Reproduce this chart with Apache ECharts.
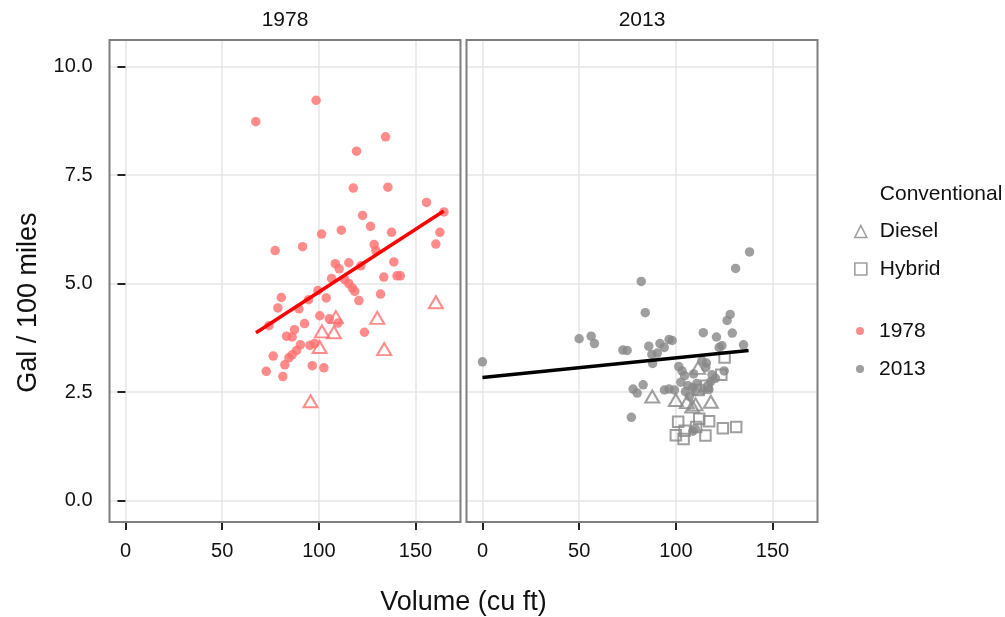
<!DOCTYPE html>
<html><head><meta charset="utf-8">
<script src="https://cdn.jsdelivr.net/npm/echarts@6/dist/echarts.min.js"></script>
<style>html,body{margin:0;padding:0;background:#fff}#chart{width:1005px;height:617px}</style>
</head><body><div id="chart"></div>
<script>
// ---------------- data ----------------
const panels = ['1978', '2013'];
const xTickMax = 150;          // x ticks 0, 50, 100, 150
const xTickStep = 50;
const yTickMax = 10;           // y ticks 0.0 … 10.0
const yTickStep = 2.5;

// 1978 conventional cars
const conv1978Vol = [67.4, 98.6, 134.5, 119.5, 117.8, 135.7, 155.7, 164.7, 122.6, 126.7, 137.6, 162.6, 101.4, 111.6, 160.5, 91.6, 77.4, 128.6, 129.5, 108.5, 110.5, 115.5, 121.7, 138.8, 133.6, 140.4, 142.1, 106.6, 113.4, 115.5, 99.5, 103.8, 117.3, 118.6, 120.7, 131.9, 80.6, 78.8, 89.7, 94.7, 74.2, 100.5, 105.4, 109.9, 92.6, 87.4, 83.3, 86.2, 123.6, 90.5, 95.4, 97.9, 88.5, 86.2, 84.5, 82.4, 76.4, 72.8, 81.4, 96.6, 102.6];
const conv1978Gal = [8.73, 9.22, 8.38, 8.05, 7.20, 7.22, 6.87, 6.65, 6.57, 6.32, 6.18, 6.18, 6.14, 6.23, 5.91, 5.85, 5.76, 5.90, 5.76, 5.46, 5.34, 5.48, 5.41, 5.50, 5.15, 5.18, 5.18, 5.12, 5.09, 5.00, 4.84, 4.67, 4.90, 4.82, 4.61, 4.76, 4.68, 4.44, 4.42, 4.63, 4.03, 4.26, 4.19, 4.09, 4.08, 3.94, 3.79, 3.77, 3.88, 3.59, 3.58, 3.62, 3.46, 3.36, 3.29, 3.13, 3.33, 2.98, 2.86, 3.11, 3.06];
// 1978 diesel cars
const diesel1978Vol = [108.8, 101.6, 107.8, 130.2, 100.4, 133.8, 160.5, 95.7];
const diesel1978Gal = [4.23, 3.90, 3.88, 4.21, 3.54, 3.49, 4.57, 2.29];
// 1978 fitted line (end points)
const fit1978Vol = [67.5, 164.6];
const fit1978Gal = [3.87, 6.67];

// 2013 conventional cars
const conv2013Vol = [138.1, 130.9, 82.1, 84.2, 128.1, 126.5, 114.2, 121.0, 129.2, 123.8, 122.4, 135.0, 0, 50, 56.2, 57.9, 72.6, 74.8, 86.0, 91.8, 94.0, 96.5, 98.1, 87.6, 90.4, 88.0, 101.5, 103.2, 104.5, 113.5, 115.8, 115.5, 109.2, 118.7, 120.5, 125.0, 102.6, 106.2, 108.8, 110.9, 116.6, 118.0, 117.1, 77.9, 80.0, 83.1, 94.1, 96.5, 99.3, 105.0, 107.0, 110.1, 114.0, 77.0, 108.8, 110.0];
const conv2013Gal = [5.73, 5.35, 5.05, 4.33, 4.29, 4.15, 3.87, 3.77, 3.86, 3.57, 3.53, 3.59, 3.20, 3.73, 3.79, 3.62, 3.47, 3.46, 3.56, 3.62, 3.53, 3.71, 3.69, 3.37, 3.40, 3.16, 3.09, 2.99, 2.88, 3.22, 3.17, 3.07, 2.92, 2.90, 2.82, 2.99, 2.73, 2.65, 2.61, 2.70, 2.65, 2.74, 2.56, 2.57, 2.48, 2.67, 2.55, 2.57, 2.55, 2.51, 2.40, 2.52, 2.54, 1.92, 1.60, 1.66];
// 2013 diesel cars
const diesel2013Vol = [87.8, 100.0, 105.7, 108.5, 110.2, 118.1, 111.5];
const diesel2013Gal = [2.40, 2.32, 2.27, 2.17, 2.22, 2.28, 3.06];
// 2013 hybrid cars
const hybrid2013Vol = [125.2, 123.5, 115.7, 111.8, 101.2, 112.1, 117.2, 124.3, 131.2, 100.0, 104.5, 104.0, 115.3, 110.5];
const hybrid2013Gal = [3.30, 2.90, 2.65, 2.55, 1.82, 1.89, 1.83, 1.67, 1.70, 1.51, 1.61, 1.42, 1.50, 1.70];
// 2013 fitted line (end points)
const fit2013Vol = [0, 137.6];
const fit2013Gal = [2.84, 3.46];

// ---------------- layout / style ----------------
const FONT = '"Liberation Sans", Arial, sans-serif';
const RED = '#ff6e6e', RED_LINE = '#ff0000';
const GREY = '#878787', BLACK_LINE = '#000000';
const X_MIN = -8.25, X_MAX = 173.25;    // panel extent (data units)
const Y_MIN = -0.49, Y_MAX = 10.61;
const PANEL_LEFT = [109.5, 466.5], PANEL_W = 351, PANEL_TOP = 40, PANEL_H = 482;
const GRID_LINE = {show: true, lineStyle: {color: '#e6e6e6', width: 1.5}};
const TICK = {show: true, length: 8, lineStyle: {color: '#222', width: 2}};

const zip = (a, b) => a.map((v, i) => [v, b[i]]);

const grids = [], xAxes = [], yAxes = [];
panels.forEach((p, i) => {
  const L = PANEL_LEFT[i];
  // border grid
  grids.push({left: L, top: PANEL_TOP, width: PANEL_W, height: PANEL_H, show: true,
    borderColor: '#7f7f7f', borderWidth: 2, backgroundColor: 'transparent', z: 5});
  xAxes.push({gridIndex: 3 * i, type: 'value', show: false, min: 0, max: 1});
  yAxes.push({gridIndex: 3 * i, type: 'value', show: false, min: 0, max: 1});
  // x-tick grid
  grids.push({left: L + (0 - X_MIN) / (X_MAX - X_MIN) * PANEL_W,
    width: (xTickMax - 0) / (X_MAX - X_MIN) * PANEL_W, top: PANEL_TOP, height: PANEL_H});
  xAxes.push({gridIndex: 3 * i + 1, type: 'value', min: 0, max: xTickMax, interval: xTickStep,
    position: 'bottom', axisLine: {show: false}, axisTick: TICK,
    axisLabel: {fontSize: 20, color: '#111', margin: 19, fontFamily: FONT, showMaxLabel: true, showMinLabel: true},
    splitLine: GRID_LINE});
  yAxes.push({gridIndex: 3 * i + 1, type: 'value', show: false, min: 0, max: 1});
  // data + y-tick grid
  grids.push({left: L, width: PANEL_W,
    top: PANEL_TOP + (Y_MAX - yTickMax) / (Y_MAX - Y_MIN) * PANEL_H,
    height: (yTickMax - 0) / (Y_MAX - Y_MIN) * PANEL_H});
  xAxes.push({gridIndex: 3 * i + 2, type: 'value', show: false, min: X_MIN, max: X_MAX});
  yAxes.push({gridIndex: 3 * i + 2, type: 'value', min: 0, max: yTickMax, interval: yTickStep,
    axisLine: {show: false},
    axisTick: Object.assign({}, TICK, {show: i === 0}),
    axisLabel: {show: i === 0, fontSize: 20, color: '#111', margin: 17, fontFamily: FONT,
      formatter: v => v.toFixed(1)},
    splitLine: GRID_LINE,
    name: i === 0 ? 'Gal / 100 miles' : '', nameLocation: 'middle', nameRotate: 90, nameGap: 67,
    nameTextStyle: {fontSize: 27, color: '#111', fontFamily: FONT, padding: [0, 38, 0, 0]}});
});

const scatter = (name, idx, data, symbol, size, style, z) => ({
  name, type: 'scatter', xAxisIndex: idx, yAxisIndex: idx, data, symbol, symbolSize: size,
  itemStyle: style, z: z || 3, silent: true, clip: false
});
const hollow = c => ({color: 'rgba(0,0,0,0)', borderColor: c, borderWidth: 2});
const fitLine = (idx, data, color) => ({
  name: 'fit', type: 'line', xAxisIndex: idx, yAxisIndex: idx, data, showSymbol: false,
  symbol: 'none', lineStyle: {color, width: 3.5}, z: 6, silent: true
});

const series = [
  scatter('Conventional', 2, [], 'circle', 9, {color: RED}),
  scatter('1978', 2, zip(conv1978Vol, conv1978Gal), 'circle', 9.5, {color: RED}),
  scatter('Diesel', 2, zip(diesel1978Vol, diesel1978Gal), 'triangle', [14, 12], hollow(RED), 4),
  fitLine(2, zip(fit1978Vol, fit1978Gal), RED_LINE),
  scatter('2013', 5, zip(conv2013Vol, conv2013Gal), 'circle', 9.5, {color: GREY}),
  scatter('Diesel', 5, zip(diesel2013Vol, diesel2013Gal), 'triangle', [14, 12], hollow(GREY), 4),
  scatter('Hybrid', 5, zip(hybrid2013Vol, hybrid2013Gal), 'rect', 10.5, hollow(GREY), 4),
  fitLine(5, zip(fit2013Vol, fit2013Gal), BLACK_LINE)
];

const legendText = pad => ({fontSize: 21, color: '#111', fontFamily: FONT, padding: [0, 0, 0, pad]});
const option = {
  animation: false,
  backgroundColor: '#ffffff',
  textStyle: {fontFamily: FONT},
  title: [
    {text: panels[0], left: PANEL_LEFT[0] + PANEL_W / 2, textAlign: 'center', top: 10, padding: 0,
      textStyle: {fontSize: 21, fontWeight: 'normal', color: '#111', fontFamily: FONT}},
    {text: panels[1], left: PANEL_LEFT[1] + PANEL_W / 2, textAlign: 'center', top: 10, padding: 0,
      textStyle: {fontSize: 21, fontWeight: 'normal', color: '#111', fontFamily: FONT}},
    {text: 'Volume (cu ft)', left: (PANEL_LEFT[0] + PANEL_LEFT[1] + PANEL_W) / 2, textAlign: 'center', top: 589, padding: 0,
      textStyle: {fontSize: 27, fontWeight: 'normal', color: '#111', fontFamily: FONT}}
  ],
  legend: [
    {orient: 'vertical', left: 854, top: 183.5, padding: 0, itemWidth: 12, itemHeight: 12, itemGap: 16.5,
      symbolKeepAspect: true, selectedMode: false, textStyle: legendText(8),
      data: [
        {name: 'Conventional', icon: 'none', itemStyle: {color: 'rgba(0,0,0,0)', borderWidth: 0}},
        {name: 'Diesel', icon: 'triangle', itemStyle: {color: 'rgba(0,0,0,0)', borderColor: GREY, borderWidth: 1.6}},
        {name: 'Hybrid', icon: 'rect', itemStyle: {color: 'rgba(0,0,0,0)', borderColor: GREY, borderWidth: 1.6}}
      ]},
    {orient: 'vertical', left: 856, top: 320.5, padding: 0, itemWidth: 8, itemHeight: 8, itemGap: 17,
      symbolKeepAspect: true, selectedMode: false, textStyle: legendText(10),
      data: [
        {name: '1978', icon: 'circle', itemStyle: {color: RED, borderWidth: 0}},
        {name: '2013', icon: 'circle', itemStyle: {color: GREY, borderWidth: 0}}
      ]}
  ],
  grid: grids,
  xAxis: xAxes,
  yAxis: yAxes,
  series
};
const chart = echarts.init(document.getElementById('chart'), null, {renderer: 'canvas'});
chart.setOption(option);
</script>
</body></html>
